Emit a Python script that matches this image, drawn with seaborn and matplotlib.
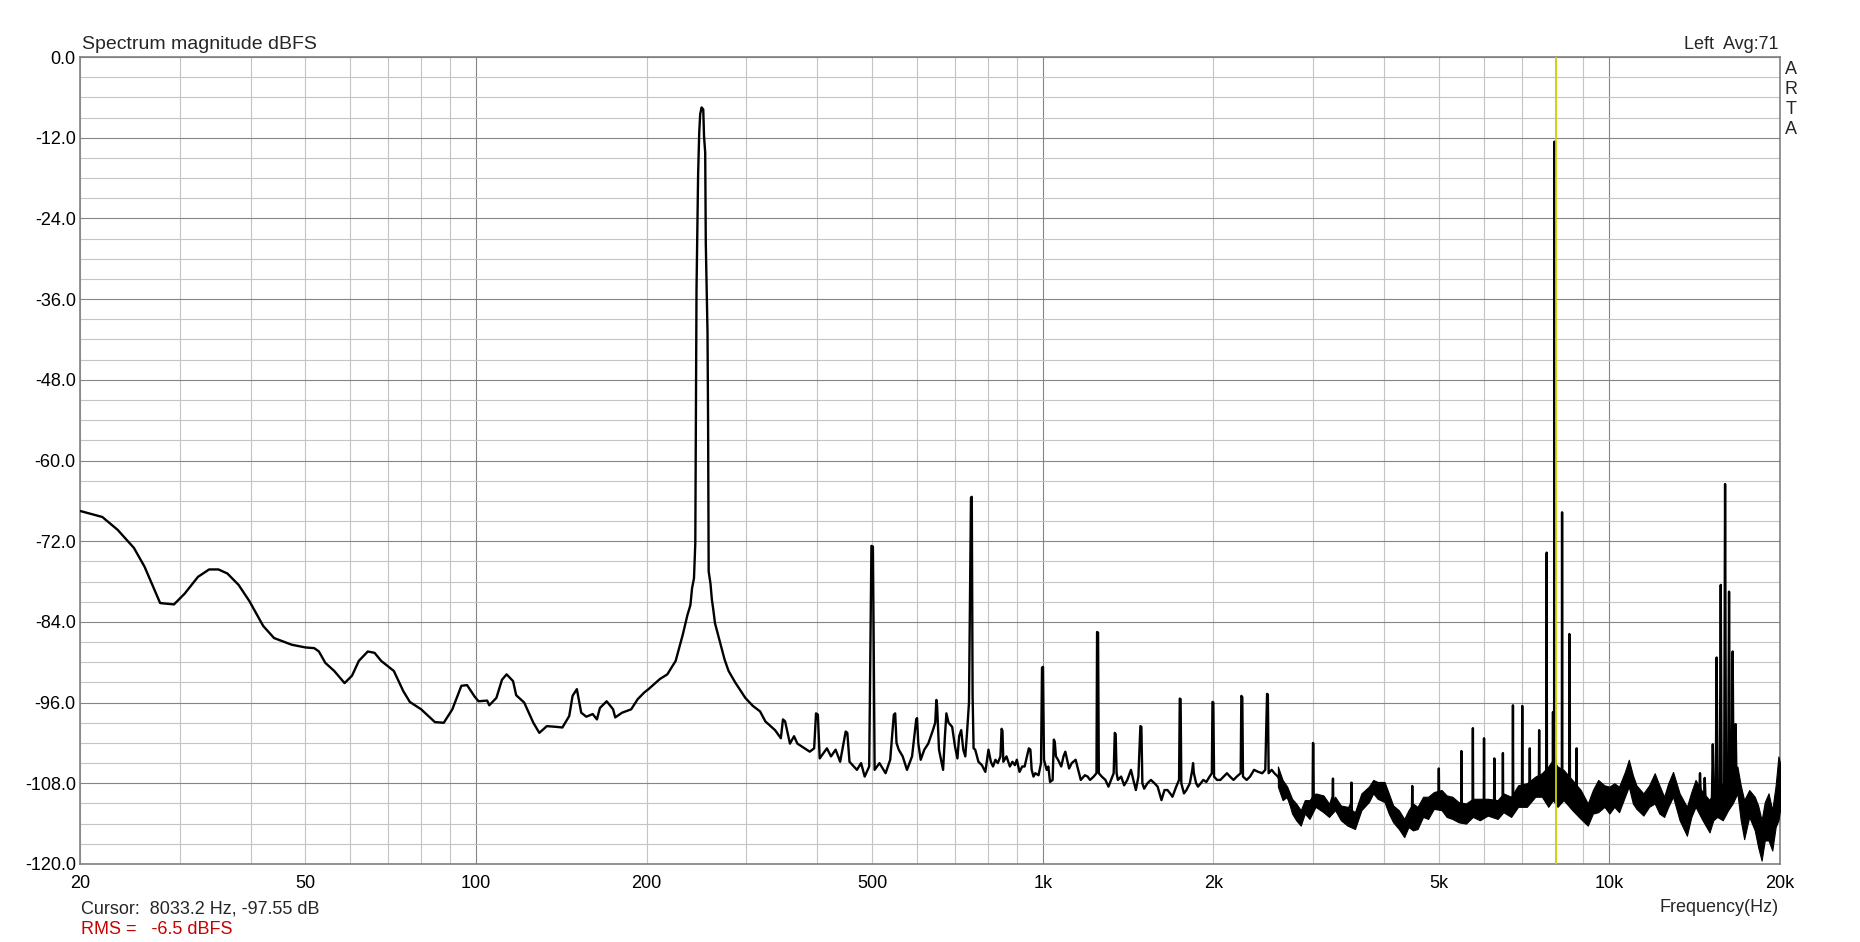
import numpy as np
import matplotlib
matplotlib.use("Agg")
import matplotlib.pyplot as plt
import matplotlib.ticker as mticker
import seaborn as sns

# espectro (Hz, dBFS)
low_freq = [20, 21.9, 23.3, 24.9, 26.0, 27.7, 29.3, 30.6, 32.3, 33.8, 35.1, 36.4, 38.1, 39.8,
            42.1, 44.0, 47.3, 50.0, 51.8, 52.8, 54.2, 56.2, 58.6, 60.4, 62.1, 64.4, 66.2, 68.0,
            71.6, 74.4, 76.4, 80.0, 84.6, 87.7, 90.8, 94.2, 96.4, 99.4, 101, 104.6, 105.5, 108.6,
            111.1, 113.2, 116.2, 117.7, 121.6, 126.2, 129.3, 133.3, 138.2, 142, 146, 148, 150.6,
            153.3, 156.5, 160.6, 163.4, 165.4, 170, 174.5, 176, 181, 187.8, 192.8, 198, 201.5,
            211, 217.5, 225, 231.6, 236, 238.9, 240.5, 242.4, 243.7, 244.3, 244.9, 245.7, 246.5,
            247.6, 248.6, 250.0, 251.7, 252.5, 253.7, 254.3, 256.1, 256.7, 257.3, 259.2, 260.7,
            262.2, 264, 274.5, 279, 286.6, 298.6, 308]
low_db = [-67.5, -68.4, -70.3, -73.0, -75.8, -81.2, -81.4, -79.8, -77.3, -76.2, -76.2, -76.8, -78.5, -80.9,
          -84.6, -86.4, -87.4, -87.8, -87.9, -88.4, -90.1, -91.3, -93.1, -92.0, -89.8, -88.4, -88.6, -89.8,
          -91.3, -94.3, -95.9, -97.0, -98.9, -99.0, -97.0, -93.5, -93.4, -95.1, -95.8, -95.7, -96.4, -95.3,
          -92.6, -91.8, -92.8, -94.9, -96.0, -99.0, -100.5, -99.5, -99.6, -99.7, -98.0, -95.0, -94.0,
          -97.5, -98.1, -97.7, -98.5, -96.8, -95.8, -97.0, -98.2, -97.5, -97.0, -95.5, -94.5, -94.0,
          -92.5, -91.8, -89.8, -85.9, -83.0, -81.5, -79.0, -77.5, -72.3, -54.4, -34.6, -25.9, -17.5,
          -11.3, -8.5, -7.5, -7.8, -11.8, -14.2, -27.6, -41.0, -54.4, -76.5, -78.3, -80.7,
          -82.2, -84.2, -89.6, -91.3, -93.0, -95.3, -96.5]

mid_freq = [317, 324, 331, 337, 345, 348, 351, 358, 364, 369, 380, 388, 395, 398, 401, 404, 416, 423,
            431, 439, 449, 452, 456, 470, 478, 485, 494, 497, 498.5, 501.5, 503, 505, 515, 528, 538,
            546, 549, 552, 557, 566, 576, 588, 598, 600, 603, 609, 618, 628, 640, 646, 649, 651, 656,
            667, 672, 676, 682, 692, 700, 707, 712, 718, 724, 730, 735, 741, 747, 749.5, 752, 755,
            760, 770, 781, 792, 802, 810, 817, 825, 833, 842, 846, 849, 852, 863, 875, 884, 893, 900,
            910, 920, 929, 938, 945, 951, 956, 963, 970, 983, 993, 997, 1001, 1005, 1016, 1023, 1030,
            1041, 1046, 1050, 1055, 1064, 1078, 1088, 1096, 1104, 1113, 1125, 1143, 1155, 1167, 1187,
            1200, 1212, 1230, 1244, 1247, 1252, 1256, 1271, 1290, 1306, 1320, 1334, 1340, 1345, 1350,
            1357, 1375, 1392, 1410, 1431, 1445, 1460, 1475, 1487, 1493, 1499, 1510, 1530, 1552, 1575,
            1595, 1620, 1640, 1660, 1678, 1694, 1720, 1740, 1745, 1751, 1756, 1775, 1793, 1818, 1836,
            1842, 1848, 1865, 1879, 1900, 1920, 1944, 1970, 1988, 1993, 2000, 2006, 2030, 2058, 2086,
            2114, 2140, 2171, 2200, 2235, 2241, 2250, 2256, 2290, 2322, 2360, 2400, 2440, 2470, 2488,
            2496, 2504, 2535, 2563]
mid_db = [-97.3, -98.8, -99.5, -100.1, -101.3, -98.5, -98.8, -102.1, -101.0, -102.1, -102.8, -103.3, -102.8, -97.6, -97.8, -104.3, -102.8, -104.0,
          -103.0, -104.8, -100.3, -100.5, -104.8, -106.0, -105.0, -107.0, -105.5, -84.0, -72.7, -72.8, -86.0, -106.0, -105.0, -106.5, -104.5,
          -97.8, -97.6, -102.0, -103.0, -104.0, -106.0, -104.0, -98.5, -98.3, -102.0, -104.5, -103.0, -102.1, -100.1, -99.0, -95.6, -96.5, -103.0,
          -106.0, -101.0, -97.6, -99.0, -99.6, -102.5, -104.3, -101.0, -100.1, -103.0, -104.0, -100.6, -96.0, -65.5, -65.4, -95.0, -102.8,
          -103.0, -104.8, -105.3, -106.3, -103.0, -104.8, -105.5, -104.5, -105.0, -104.0, -99.9, -100.2, -104.8, -104.0, -105.5, -104.8, -105.3, -104.5,
          -106.3, -105.5, -105.5, -104.0, -102.8, -103.0, -106.0, -107.0, -106.5, -106.8, -105.0, -90.8, -90.7, -104.5, -106.0, -105.5, -107.8,
          -107.5, -101.5, -101.8, -104.0, -104.5, -105.5, -104.0, -103.3, -104.5, -105.8, -105.0, -104.5, -106.0, -107.5, -106.8,
          -107.0, -107.5, -107.0, -106.5, -85.5, -85.6, -106.5, -107.0, -107.5, -108.5, -107.5, -106.5, -100.5, -100.7, -106.5,
          -107.5, -107.0, -108.3, -107.5, -106.0, -107.5, -109.0, -107.0, -99.5, -99.6, -108.0, -108.8, -108.0, -107.5, -108.0,
          -108.5, -110.5, -109.0, -109.0, -109.5, -110.0, -108.5, -107.5, -95.4, -95.5, -108.0, -109.5, -109.0, -108.0, -106.0,
          -105.0, -106.5, -108.0, -108.5, -108.0, -107.5, -107.8, -107.0, -106.5, -95.9, -96.0, -107.0, -107.5, -107.5, -107.0,
          -106.5, -107.0, -107.5, -107.0, -106.5, -95.0, -95.2, -107.0, -107.5, -107.0, -106.0, -106.3, -106.5, -106.0, -94.7,
          -94.8, -106.5, -106.0, -106.5]

high_freq = [2600, 2680, 2754, 2800, 2853, 2900, 2956, 2994, 2998, 3003, 3008, 3060, 3128, 3200, 3247, 3252,
             3257, 3300, 3358, 3420, 3500, 3506, 3512, 3556, 3620, 3690, 3762, 3830, 3895, 3960, 4010, 4080,
             4153, 4250, 4344, 4420, 4482, 4488, 4494, 4586, 4694, 4787, 4890, 4994, 5000, 5006, 5057, 5165,
             5281, 5370, 5474, 5480, 5487, 5583, 5660, 5735, 5742, 5749, 5830, 5907, 6001, 6008, 6015, 6125,
             6258, 6265, 6272, 6350, 6480, 6487, 6494, 6637, 6749, 6757, 6765, 6884, 7009, 7017, 7025, 7150,
             7229, 7236, 7243, 7390, 7508, 7516, 7524, 7645, 7742, 7750, 7758, 7850, 7945, 7951, 7957, 7988,
             7993, 8005, 8012, 8078, 8130, 8242, 8250, 8258, 8335, 8420, 8492, 8497, 8503, 8510, 8518, 8600,
             8745, 8752, 8760, 8890, 9000, 9160, 9340, 9553, 9700, 9845, 10050, 10290, 10400, 10600, 10820,
             10970, 11160, 11480, 11750, 12020, 12250, 12490, 12700, 12950, 13280, 13700, 13950, 14190, 14400,
             14450, 14500, 14680, 14730, 14780, 15020, 15160, 15220, 15290, 15400, 15460, 15520, 15660, 15720,
             15780, 15940, 16000, 16060, 16200, 16260, 16320, 16440, 16500, 16560, 16640, 16700, 16760, 16820,
             17050, 17290, 17600, 18050, 18300, 18560, 18800, 19090, 19380, 19650, 19870, 20000]
high_db = [-107.0, -109.3, -111.6, -112.5, -113.2, -112.5, -111.9, -110.0, -102.0, -102.1, -111.0, -111.5, -111.0, -111.8, -110.0, -107.3,
           -111.5, -112.0, -112.4, -113.0, -111.0, -107.9, -113.0, -113.5, -112.5, -110.5, -109.6, -109.5, -108.5, -109.3, -109.3, -111.0,
           -112.5, -113.8, -114.6, -113.0, -112.5, -108.4, -112.5, -113.0, -111.5, -111.6, -110.8, -110.0, -105.8, -110.0, -110.5, -111.0,
           -111.6, -112.0, -112.0, -103.2, -112.0, -112.5, -112.0, -112.0, -99.8, -112.0, -111.5, -111.8, -111.8, -101.3, -111.8, -111.6,
           -111.0, -104.3, -111.0, -111.9, -110.8, -103.5, -110.8, -111.5, -110.0, -96.4, -110.0, -109.8, -109.5, -96.5, -109.5, -109.0,
           -108.5, -102.8, -108.5, -107.5, -107.5, -100.1, -107.5, -108.0, -108.5, -73.7, -108.0, -108.5, -108.0, -97.4, -107.0, -104.0,
           -12.6, -12.6, -104.0, -106.5, -107.5, -107.0, -67.7, -107.5, -108.5, -108.5, -108.0, -85.8, -108.0, -86.9, -108.5, -109.5,
           -109.5, -102.8, -109.5, -110.5, -111.5, -112.5, -111.5, -110.0, -109.5, -109.8, -109.5, -109.5, -110.0, -108.0, -106.5,
           -108.0, -110.0, -111.0, -109.5, -108.5, -109.5, -111.5, -110.0, -108.0, -110.5, -113.5, -111.0, -109.5, -110.0,
           -106.5, -110.0, -110.5, -107.2, -110.5, -112.8, -111.5, -102.2, -111.5, -110.5, -89.3, -110.5, -110.0, -78.5,
           -110.0, -109.0, -63.5, -109.0, -108.0, -79.5, -108.0, -107.5, -88.4, -107.5, -107.0, -99.2, -107.5, -107.5,
           -110.0, -113.4, -111.0, -112.5, -114.0, -116.5, -113.0, -113.0, -115.5, -111.0, -108.8, -109.0]

# espesor de la banda de ruido arriba de 2.6 kHz (limite inferior / superior)
band_freq = [2600, 2650, 2700, 2754, 2800, 2853, 2900, 2956, 3030, 3128, 3200, 3280, 3358, 3450, 3556,
             3650, 3762, 3830, 3899, 4010, 4080, 4153, 4250, 4344, 4420, 4500, 4586, 4690, 4787, 4900,
             5057, 5160, 5281, 5420, 5583, 5740, 5907, 6100, 6350, 6500, 6707, 6900, 7150, 7400, 7600,
             7800, 7950, 8100, 8300, 8600, 8900, 9160, 9350, 9553, 9800, 10000, 10200, 10400, 10650,
             10820, 11000, 11160, 11480, 11750, 12020, 12250, 12490, 12700, 12950, 13300, 13700, 13950,
             14190, 14600, 15020, 15250, 15500, 15850, 16200, 16500, 16820, 17050, 17290, 17650, 18050,
             18300, 18560, 18800, 19090, 19380, 19650, 19870, 20000]
band_lo = [-108.5, -110.5, -110.0, -112.5, -113.5, -114.3, -112.5, -113.3, -111.5, -112.3, -113.0, -112.0, -113.5, -114.3, -114.8,
           -112.0, -110.8, -109.5, -110.3, -110.8, -112.5, -113.8, -114.8, -116.0, -114.5, -115.0, -114.8, -113.0, -113.3, -111.8,
           -112.0, -113.0, -113.3, -113.8, -114.0, -113.0, -113.5, -112.8, -113.3, -112.3, -113.0, -111.5, -111.5, -110.0, -110.0,
           -111.5, -110.5, -111.5, -110.5, -112.0, -113.3, -114.3, -112.5, -112.3, -111.5, -112.5, -111.5, -112.3, -110.0,
           -108.5, -111.0, -111.8, -112.8, -111.5, -111.0, -112.5, -113.0, -111.5, -110.0, -113.5, -115.8, -113.0,
           -111.5, -113.5, -115.3, -113.5, -113.0, -113.5, -112.0, -111.0, -109.5, -113.5, -116.3, -113.0, -115.0,
           -117.5, -119.5, -116.5, -116.5, -118.0, -114.5, -113.5, -112.0]
band_hi = [-105.5, -107.5, -108.5, -110.3, -111.0, -112.0, -110.5, -110.5, -109.5, -109.8, -111.0, -110.0, -111.3, -111.5, -112.3,
           -109.5, -108.5, -107.5, -107.8, -107.8, -109.5, -111.3, -112.0, -113.3, -112.0, -111.0, -111.5, -110.0, -110.0, -109.3,
           -109.0, -109.8, -110.0, -110.8, -111.0, -110.3, -110.3, -110.3, -110.5, -109.5, -110.0, -108.3, -108.0, -107.0, -106.5,
           -105.5, -104.5, -105.5, -106.0, -107.5, -109.0, -111.0, -109.0, -107.5, -108.3, -108.5, -108.0, -108.5, -106.3,
           -104.5, -106.8, -108.3, -109.5, -108.3, -106.5, -108.3, -110.0, -108.0, -106.3, -109.5, -111.5, -109.3,
           -107.5, -109.3, -110.5, -109.3, -108.5, -108.0, -107.0, -106.3, -105.5, -108.3, -110.5, -109.0, -110.0,
           -111.3, -113.5, -110.8, -109.5, -112.0, -108.3, -104.0, -105.0]

cursor_hz = 8033.2
xtick_values = [20, 50, 100, 200, 500, 1000, 2000, 5000, 10000, 20000]
xtick_labels = ['20', '50', '100', '200', '500', '1k', '2k', '5k', '10k', '20k']

sns.set_style("white")
plt.rcParams['font.family'] = ['Liberation Sans', 'DejaVu Sans']
plt.rcParams['axes.unicode_minus'] = False

W, H = 1860, 942
fig = plt.figure(figsize=(W / 100, H / 100), dpi=100)
ax = fig.add_axes([80 / W, 1 - 864 / H, 1700 / W, 807 / H])
ax.set_xscale('log')

freq = np.array(low_freq + mid_freq + high_freq, dtype=float)
level = np.array(low_db + mid_db + high_db, dtype=float)

ax.fill_between(band_freq, band_lo, band_hi, color='black', lw=0.8, edgecolor='black', zorder=3)
sns.lineplot(x=freq, y=level, sort=False, estimator=None, color='black',
             linewidth=1.7, ax=ax, zorder=4)
ax.axvline(cursor_hz, color='#d0d000', lw=1.3, zorder=5)

ax.set_xlim(20, 20000)
ax.set_ylim(-120, 0)

lbl = dict(zip(xtick_values, xtick_labels))
def fmt(v, pos):
    return lbl.get(int(round(v)), '')

ax.xaxis.set_major_locator(mticker.LogLocator(base=10, numticks=10))
ax.xaxis.set_minor_locator(mticker.LogLocator(base=10, subs=np.arange(2, 10), numticks=40))
ax.xaxis.set_major_formatter(mticker.FuncFormatter(fmt))
ax.xaxis.set_minor_formatter(mticker.FuncFormatter(fmt))
ax.yaxis.set_major_locator(mticker.MultipleLocator(12))
ax.yaxis.set_minor_locator(mticker.MultipleLocator(3))
ax.yaxis.set_major_formatter(mticker.FormatStrFormatter('%.1f'))

ax.grid(which='major', color='#858585', lw=0.8)
ax.grid(which='minor', color='#c4c4c4', lw=0.8)
ax.set_axisbelow(True)
ax.tick_params(axis='x', which='both', length=0, pad=8, labelsize=13, colors='black')
ax.tick_params(axis='y', which='both', length=0, pad=3, labelsize=13, colors='black')
for s in ax.spines.values():
    s.set_color('#808080')
    s.set_linewidth(1.2)
ax.set_xlabel('')
ax.set_ylabel('')

fig.text(82 / W, 1 - 49 / H, 'Spectrum magnitude dBFS', fontsize=14, va='baseline', ha='left')
fig.text(1778 / W, 1 - 49 / H, 'Left  Avg:71', fontsize=13, va='baseline', ha='right')
for i, ch in enumerate('ARTA'):
    fig.text(1791 / W, 1 - (69 + 20 * i) / H, ch, fontsize=13, va='center', ha='center')
fig.text(1779 / W, 1 - 912 / H, 'Frequency(Hz)', fontsize=13, va='baseline', ha='right')
fig.text(81 / W, 1 - 913 / H, 'Cursor:  8033.2 Hz, -97.55 dB', fontsize=13, va='baseline', ha='left')
fig.text(81 / W, 1 - 934 / H, 'RMS =   -6.5 dBFS', fontsize=13, va='baseline', ha='left', color='#c80000')

fig.savefig('out.png', dpi=100)
